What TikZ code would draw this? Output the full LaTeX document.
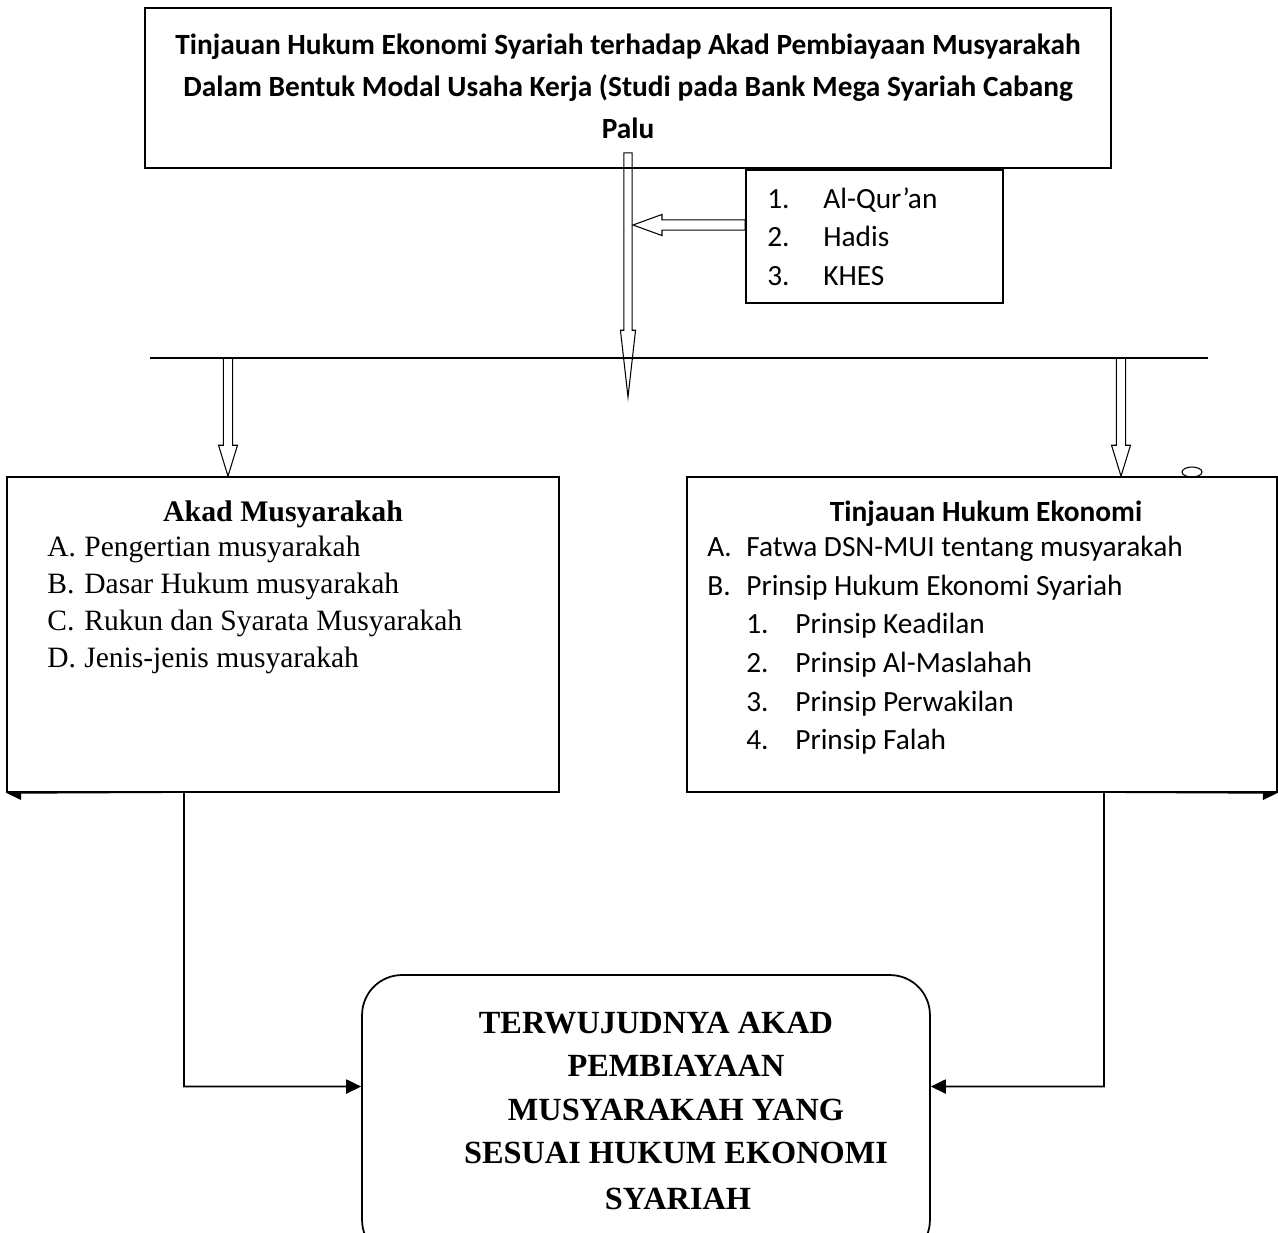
\documentclass[tikz,border=0pt]{standalone}
\usepackage{fontspec}
\setmainfont{Liberation Serif}
\newfontfamily\calibri{Carlito}
\usetikzlibrary{arrows.meta, calc, backgrounds}
\tikzset{
  box/.style={draw, line width=1pt, inner sep=0pt},
  sans/.style={font=\calibri\fontsize{16.7}{20}\selectfont, inner sep=0pt},
  sansbold/.style={font=\calibri\bfseries\fontsize{16.7}{20}\selectfont, inner sep=0pt},
  serif/.style={font=\fontsize{16.8}{20}\selectfont, inner sep=0pt},
  serifbold/.style={font=\bfseries\fontsize{17}{20}\selectfont, inner sep=0pt},
  goaltext/.style={font=\bfseries\fontsize{18.4}{22}\selectfont, inner sep=0pt},
  link/.style={line width=1pt, {Triangle[length=8.5pt,width=8pt]}-{Triangle[length=8.5pt,width=8pt]}},
  hollow/.style n args={3}{draw, line width=0.6pt, to path={
    ($(\tikztostart)!#1!90:(\tikztotarget)$)
    -- ($(\tikztotarget)!#3!(\tikztostart)!#1!-90:(\tikztostart)$)
    -- ($(\tikztotarget)!#3!(\tikztostart)!#2!-90:(\tikztostart)$)
    -- (\tikztotarget)
    -- ($(\tikztotarget)!#3!(\tikztostart)!#2!90:(\tikztostart)$)
    -- ($(\tikztotarget)!#3!(\tikztostart)!#1!90:(\tikztostart)$)
    -- ($(\tikztostart)!#1!-90:(\tikztotarget)$) -- cycle}},
}

\begin{document}
\begin{tikzpicture}[x=0.02cm, y=-0.02cm]
  \useasboundingbox (0,0) rectangle (1278,1232);

  % boxes
  \node[box, minimum width=19.32cm, minimum height=3.2cm] (title) at (628,88) {};
  \node[box, minimum width=5.14cm, minimum height=2.66cm] (src) at (874.5,236.5) {};
  \node[box, fill=white, minimum width=11.04cm, minimum height=6.3cm] (lbox) at (283,634.5) {};
  \node[box, fill=white, minimum width=11.8cm, minimum height=6.3cm] (rbox) at (982,634.5) {};
  \node[box, rounded corners=0.8cm, minimum width=11.36cm, minimum height=5.7cm] (goal) at (646,1117.5) {};

  % texts
  \foreach \txt [count=\i] in {Tinjauan Hukum Ekonomi Syariah terhadap Akad Pembiayaan Musyarakah,
      Dalam Bentuk Modal Usaha Kerja (Studi pada Bank Mega Syariah Cabang, Palu}
    \node[sansbold, anchor=base] (head\i) at (628, 12+42*\i) {\txt};
  \foreach \txt [count=\i] in {Al-Qur’an, Hadis, KHES}{
    \node[sans, anchor=base west] (srcnum\i) at (767, 169.5+38.5*\i) {\i.};
    \node[sans, anchor=base west] (srcitem\i) at (823, 169.5+38.5*\i) {\txt};
  }
  \node[serifbold, anchor=base] (ltitle) at (283,521) {Akad Musyarakah};
  \foreach \tag/\txt [count=\i] in {A/Pengertian musyarakah, B/Dasar Hukum musyarakah,
      C/Rukun dan Syarata Musyarakah, D/Jenis-jenis musyarakah}{
    \node[serif, anchor=base west] (ltag\i) at (47, 519+37*\i) {\tag.};
    \node[serif, anchor=base west] (litem\i) at (84, 519+37*\i) {\txt};
  }
  \node[sansbold, anchor=base] (rtitle) at (986,521) {Tinjauan Hukum Ekonomi};
  \foreach \tag/\txt [count=\i] in {A/Fatwa DSN-MUI tentang musyarakah, B/Prinsip Hukum Ekonomi Syariah}{
    \node[sans, anchor=base west] (rtag\i) at (707, 517+39*\i) {\tag.};
    \node[sans, anchor=base west] (ritem\i) at (746, 517+39*\i) {\txt};
  }
  \foreach \txt [count=\i] in {Prinsip Keadilan, Prinsip Al-Maslahah, Prinsip Perwakilan, Prinsip Falah}{
    \node[sans, anchor=base west] (rnum\i) at (746, 595+38.7*\i) {\i.};
    \node[sans, anchor=base west] (rsub\i) at (795, 595+38.7*\i) {\txt};
  }
  \foreach \x/\y/\txt [count=\i] in {656/1033/TERWUJUDNYA AKAD, 676/1076/PEMBIAYAAN, 676/1120/MUSYARAKAH YANG,
      676/1163/SESUAI HUKUM EKONOMI, 678/1209/SYARIAH}
    \node[goaltext, anchor=base] (goal\i) at (\x,\y) {\txt};

  % bar and hollow arrows
  \coordinate (barL) at (150,358);
  \coordinate (barR) at (1208,358);
  \draw[line width=0.9pt] (barL) -- (barR);
  \coordinate (mainstart) at ([yshift=0.32cm]title.south);
  \coordinate (split) at (title.south |- barL);
  \coordinate (maintip) at ([yshift=-0.78cm]split);
  \coordinate (feedstart) at ([yshift=0.23cm]src.west);
  \coordinate (feedtip) at (633,225);
  \coordinate (ldrop) at (228,358);
  \coordinate (ltip) at (ldrop |- lbox.north);
  \coordinate (rdrop) at (1121,358);
  \coordinate (rtip) at (rdrop |- rbox.north);
  \draw[hollow={2.3pt}{4.3pt}{38pt}] (mainstart) to (maintip);
  \draw[hollow={2.9pt}{6pt}{16.5pt}] (feedstart) to (feedtip);
  \draw[hollow={2.6pt}{5.4pt}{17.6pt}] (ldrop) to (ltip);
  \draw[hollow={2.6pt}{5.4pt}{17.6pt}] (rdrop) to (rtip);
  \draw[line width=0.6pt] (1192,472) ellipse [x radius=0.2cm, y radius=0.1cm];

  % links to the result
  \begin{pgfonlayer}{background}
    \coordinate (lturn) at (184,792);
    \coordinate (rturn) at (1104,792);
    \draw[link] (lbox.south west) -- (lturn) |- ([yshift=0.62cm]goal.west);
    \draw[link] (rbox.south east) -- (rturn) |- ([yshift=0.62cm]goal.east);
  \end{pgfonlayer}
\end{tikzpicture}
\end{document}
